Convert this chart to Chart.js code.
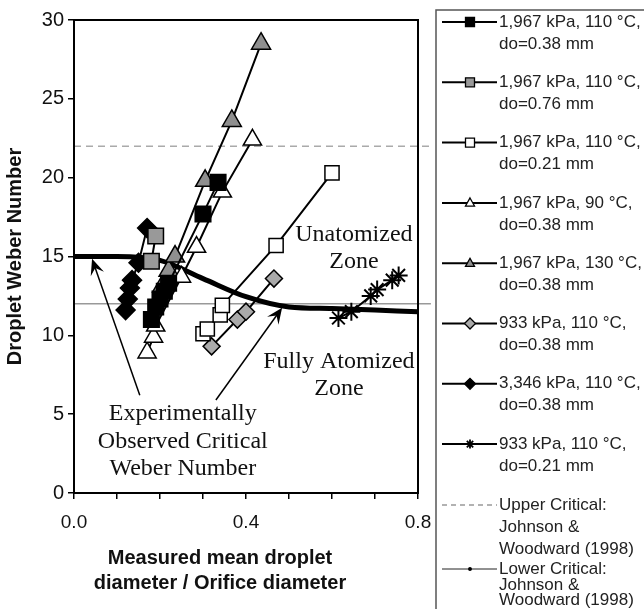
<!DOCTYPE html>
<html>
<head>
<meta charset="utf-8">
<script src="https://cdn.jsdelivr.net/npm/chart.js@4.4.0/dist/chart.umd.min.js"></script>
<style>
html, body { margin: 0; padding: 0; background: #fff; }
#wrap { width: 644px; height: 609px; position: relative; }
</style>
</head>
<body>
<div id="wrap"><canvas id="weber-chart"></canvas></div>
<script>
// legend names
const seriesNames = [
    ['1,967 kPa, 110 °C,', 'do=0.38 mm'],
    ['1,967 kPa, 110 °C,', 'do=0.76 mm'],
    ['1,967 kPa, 110 °C,', 'do=0.21 mm'],
    ['1,967 kPa, 90 °C,', 'do=0.38 mm'],
    ['1,967 kPa, 130 °C,', 'do=0.38 mm'],
    ['933 kPa, 110 °C,', 'do=0.38 mm'],
    ['3,346 kPa, 110 °C,', 'do=0.38 mm'],
    ['933 kPa, 110 °C,', 'do=0.21 mm']
];
const upperName = ['Upper Critical:', 'Johnson &', 'Woodward (1998)'];
const lowerName = ['Lower Critical:', 'Johnson &', 'Woodward (1998)'];
const xTitle = ['Measured mean droplet', 'diameter / Orifice diameter'];
const yTitle = 'Droplet Weber Number';

// measured points (d / do, We)
const sq038X = [0.18, 0.19, 0.20, 0.21, 0.22, 0.30, 0.335];
const sq038Y = [11.0, 11.8, 12.3, 12.8, 13.3, 17.7, 19.7];
const sq076X = [0.18, 0.19];
const sq076Y = [14.7, 16.3];
const sq021X = [0.30, 0.31, 0.34, 0.345, 0.47, 0.60];
const sq021Y = [10.1, 10.4, 11.3, 11.9, 15.7, 20.3];
const tri90X = [0.17, 0.185, 0.19, 0.25, 0.285, 0.345, 0.415];
const tri90Y = [8.9, 9.9, 10.6, 13.7, 15.6, 19.1, 22.4];
const tri130X = [0.205, 0.22, 0.235, 0.305, 0.367, 0.435];
const tri130Y = [13.1, 14.1, 15.0, 19.8, 23.6, 28.5];
const dia933X = [0.32, 0.38, 0.40, 0.465];
const dia933Y = [9.3, 11.0, 11.5, 13.6];
const dia3346X = [0.12, 0.125, 0.13, 0.135, 0.15, 0.17];
const dia3346Y = [11.6, 12.3, 13.0, 13.5, 14.6, 16.8];
const star933X = [0.615, 0.645, 0.69, 0.705, 0.74, 0.755];
const star933Y = [11.1, 11.5, 12.5, 12.9, 13.5, 13.8];

// experimentally observed critical Weber number
const criticalX = [0, 0.1, 0.2, 0.3, 0.4, 0.5, 0.6, 0.7, 0.8];
const criticalY = [15.0, 15.0, 14.75, 13.6, 12.45, 11.8, 11.7, 11.6, 11.5];

// Johnson & Woodward reference lines
const refLineX = [0, 0.83];
const upperCriticalY = [22, 22];
const lowerCriticalY = [12, 12];

const xTicks = [0, 0.4, 0.8];

const sans = 'Liberation Sans, Arial, sans-serif';
const serif = 'Liberation Serif, Times New Roman, serif';

const toPoints = function (xs, ys) {
    return xs.map((x, i) => ({ x: x, y: ys[i] }));
}

const markerSeries = [
    { x: sq038X, y: sq038Y, style: 'rect', fill: '#000', radius: 11 },
    { x: sq076X, y: sq076Y, style: 'rect', fill: '#999', radius: 11 },
    { x: sq021X, y: sq021Y, style: 'rect', fill: '#fff', radius: 10 },
    { x: tri90X, y: tri90Y, style: 'triangle', fill: '#fff', radius: 10.5 },
    { x: tri130X, y: tri130Y, style: 'triangle', fill: '#8f8f8f', radius: 11 },
    { x: dia933X, y: dia933Y, style: 'rectRot', fill: '#aaa', radius: 8.5 },
    { x: dia3346X, y: dia3346Y, style: 'rectRot', fill: '#000', radius: 9.5 },
    { x: star933X, y: star933Y, style: 'star', fill: '#000', radius: 9 }
];

const datasets = markerSeries.map((s, i) => ({
    label: seriesNames[i].join(' '),
    data: toPoints(s.x, s.y),
    showLine: true,
    borderColor: '#000',
    borderWidth: 2,
    pointStyle: s.style,
    pointRadius: s.radius,
    pointBackgroundColor: s.fill,
    pointBorderColor: '#000',
    pointBorderWidth: s.style === 'star' ? 2 : 1.5,
    order: 1,
}));

datasets.push({
    label: 'Experimentally Observed Critical Weber Number',
    data: toPoints(criticalX, criticalY),
    showLine: true,
    borderColor: '#000',
    borderWidth: 5,
    pointRadius: 0,
    cubicInterpolationMode: 'monotone',
    order: 2,
});
datasets.push({
    label: upperName.join(' '),
    data: toPoints(refLineX, upperCriticalY),
    showLine: true,
    borderColor: '#aaa',
    borderWidth: 1.5,
    borderDash: [7, 5],
    pointRadius: 0,
    clip: false,
    order: 3,
});
datasets.push({
    label: lowerName.join(' '),
    data: toPoints(refLineX, lowerCriticalY),
    showLine: true,
    borderColor: '#999',
    borderWidth: 1.5,
    pointRadius: 0,
    clip: false,
    order: 3,
});

// text notes, placed in data units
const notes = [
    { x: 0.651, y: 16.4, lines: ['Unatomized', 'Zone'] },
    { x: 0.616, y: 8.35, lines: ['Fully Atomized', 'Zone'] },
    { x: 0.253, y: 5.0, lines: ['Experimentally', 'Observed Critical', 'Weber Number'] }
];
const arrows = [
    { from: [0.153, 6.2], to: [0.042, 14.85] },
    { from: [0.33, 5.9], to: [0.484, 11.75] }
];

const drawMarker = function (ctx, style, x, y, r, fill) {
    ctx.save();
    ctx.fillStyle = fill;
    ctx.strokeStyle = '#000';
    ctx.lineWidth = 1.3;
    ctx.beginPath();
    if (style === 'rect') {
        ctx.rect(x - r, y - r, 2 * r, 2 * r);
    } else if (style === 'triangle') {
        ctx.moveTo(x, y - r * 1.1);
        ctx.lineTo(x + r, y + r * 0.7);
        ctx.lineTo(x - r, y + r * 0.7);
        ctx.closePath();
    } else if (style === 'rectRot') {
        ctx.moveTo(x - r, y);
        ctx.lineTo(x, y - r);
        ctx.lineTo(x + r, y);
        ctx.lineTo(x, y + r);
        ctx.closePath();
    } else if (style === 'star') {
        ctx.lineWidth = 1.8;
        for (let k = 0; k < 4; k++) {
            const a = k * Math.PI / 4;
            ctx.moveTo(x - Math.cos(a) * r, y - Math.sin(a) * r);
            ctx.lineTo(x + Math.cos(a) * r, y + Math.sin(a) * r);
        }
        ctx.stroke();
        ctx.restore();
        return;
    } else if (style === 'dot') {
        ctx.arc(x, y, r, 0, Math.PI * 2);
    }
    ctx.fill();
    ctx.stroke();
    ctx.restore();
}

const drawArrow = function (ctx, x0, y0, x1, y1) {
    const ang = Math.atan2(y1 - y0, x1 - x0);
    const len = 16;
    const half = 7;
    ctx.save();
    ctx.strokeStyle = '#000';
    ctx.fillStyle = '#000';
    ctx.lineWidth = 1.5;
    ctx.beginPath();
    ctx.moveTo(x0, y0);
    ctx.lineTo(x1 - Math.cos(ang) * 8, y1 - Math.sin(ang) * 8);
    ctx.stroke();
    const bx = x1 - Math.cos(ang) * len;
    const by = y1 - Math.sin(ang) * len;
    const nx = x1 - Math.cos(ang) * len * 0.6;
    const ny = y1 - Math.sin(ang) * len * 0.6;
    ctx.beginPath();
    ctx.moveTo(x1, y1);
    ctx.lineTo(bx + Math.sin(ang) * half, by - Math.cos(ang) * half);
    ctx.lineTo(nx, ny);
    ctx.lineTo(bx - Math.sin(ang) * half, by + Math.cos(ang) * half);
    ctx.closePath();
    ctx.fill();
    ctx.restore();
}

const decorations = {
    id: 'decorations',
    afterDraw(chart) {
        const ctx = chart.ctx;
        const area = chart.chartArea;
        const xs = chart.scales.x;
        const ys = chart.scales.y;

        // plot frame
        ctx.save();
        ctx.strokeStyle = '#000';
        ctx.lineWidth = 2;
        ctx.strokeRect(area.left, area.top, area.right - area.left, area.bottom - area.top);
        ctx.restore();

        // x axis title, sits a bit left of the plot centre in the original
        ctx.save();
        ctx.font = 'bold 20px ' + sans;
        ctx.fillStyle = '#111';
        ctx.textAlign = 'center';
        ctx.textBaseline = 'middle';
        xTitle.forEach((t, i) => ctx.fillText(t, area.left + 146, xs.bottom - 51 + i * 25));
        ctx.restore();

        // notes
        ctx.save();
        ctx.font = '24px ' + serif;
        ctx.fillStyle = '#111';
        ctx.textAlign = 'center';
        ctx.textBaseline = 'middle';
        notes.forEach(n => {
            const px = xs.getPixelForValue(n.x);
            const py = ys.getPixelForValue(n.y);
            n.lines.forEach((t, i) => ctx.fillText(t, px, py + i * 27.5));
        });
        ctx.restore();

        arrows.forEach(a => {
            drawArrow(ctx,
                xs.getPixelForValue(a.from[0]), ys.getPixelForValue(a.from[1]),
                xs.getPixelForValue(a.to[0]), ys.getPixelForValue(a.to[1]));
        });

        // legend box
        ctx.save();
        ctx.strokeStyle = '#555';
        ctx.lineWidth = 1.5;
        ctx.strokeRect(436, 10, 240, 640);
        ctx.font = '17px ' + sans;
        ctx.fillStyle = '#222';
        ctx.textAlign = 'left';
        ctx.textBaseline = 'middle';
        markerSeries.forEach((s, i) => {
            const y = 22 + i * 60.3;
            ctx.strokeStyle = '#000';
            ctx.lineWidth = 2;
            ctx.beginPath();
            ctx.moveTo(442, y);
            ctx.lineTo(497, y);
            ctx.stroke();
            drawMarker(ctx, s.style, 470, y, s.style === 'rectRot' ? 5.5 : 4.5, s.fill);
            ctx.fillText(seriesNames[i][0], 499, y);
            ctx.fillText(seriesNames[i][1], 499, y + 22);
        });

        ctx.strokeStyle = '#999';
        ctx.lineWidth = 1.5;
        ctx.setLineDash([5, 4]);
        ctx.beginPath();
        ctx.moveTo(442, 505);
        ctx.lineTo(497, 505);
        ctx.stroke();
        ctx.setLineDash([]);
        [505, 527, 549].forEach((y, i) => ctx.fillText(upperName[i], 499, y));

        ctx.strokeStyle = '#222';
        ctx.lineWidth = 1;
        ctx.beginPath();
        ctx.moveTo(442, 569);
        ctx.lineTo(497, 569);
        ctx.stroke();
        drawMarker(ctx, 'dot', 470, 569, 1.3, '#000');
        [569, 585, 600].forEach((y, i) => ctx.fillText(lowerName[i], 499, y));
        ctx.restore();
    }
};

const initWeberChart = function () {
    const el = document.querySelector('#weber-chart');
    return new Chart(el, {
        type: 'scatter',
        data: { datasets: datasets },
        options: {
            responsive: true,
            maintainAspectRatio: false,
            animation: false,
            devicePixelRatio: 1,
            layout: { padding: { top: 20, right: 226, left: 0, bottom: 0 } },
            plugins: {
                legend: { display: false },
                tooltip: { enabled: false },
            },
            scales: {
                x: {
                    type: 'linear',
                    min: 0,
                    max: 0.8,
                    afterFit: s => { s.height = 116; },
                    ticks: {
                        stepSize: 0.1,
                        autoSkip: false,
                        maxRotation: 0,
                        padding: 12,
                        color: '#111',
                        font: { family: sans, size: 19 },
                        callback: v => xTicks.some(t => Math.abs(t - v) < 1e-6) ? v.toFixed(1) : '',
                    },
                    grid: { drawOnChartArea: false, tickLength: 6, color: '#000', lineWidth: 1.5 },
                    border: { color: '#000', width: 2 },
                },
                y: {
                    min: 0,
                    max: 30,
                    afterFit: s => { s.width = 74; },
                    ticks: {
                        stepSize: 5,
                        padding: 4,
                        color: '#111',
                        font: { family: sans, size: 20 },
                    },
                    grid: { drawOnChartArea: false, tickLength: 6, color: '#000', lineWidth: 1.5 },
                    border: { color: '#000', width: 2 },
                    title: {
                        display: true,
                        text: yTitle,
                        color: '#111',
                        font: { family: sans, size: 20, weight: 'bold', lineHeight: 1.3 },
                        padding: { top: 2, bottom: 0 },
                    },
                },
            },
        },
        plugins: [decorations],
    });
}

initWeberChart();
</script>
</body>
</html>
